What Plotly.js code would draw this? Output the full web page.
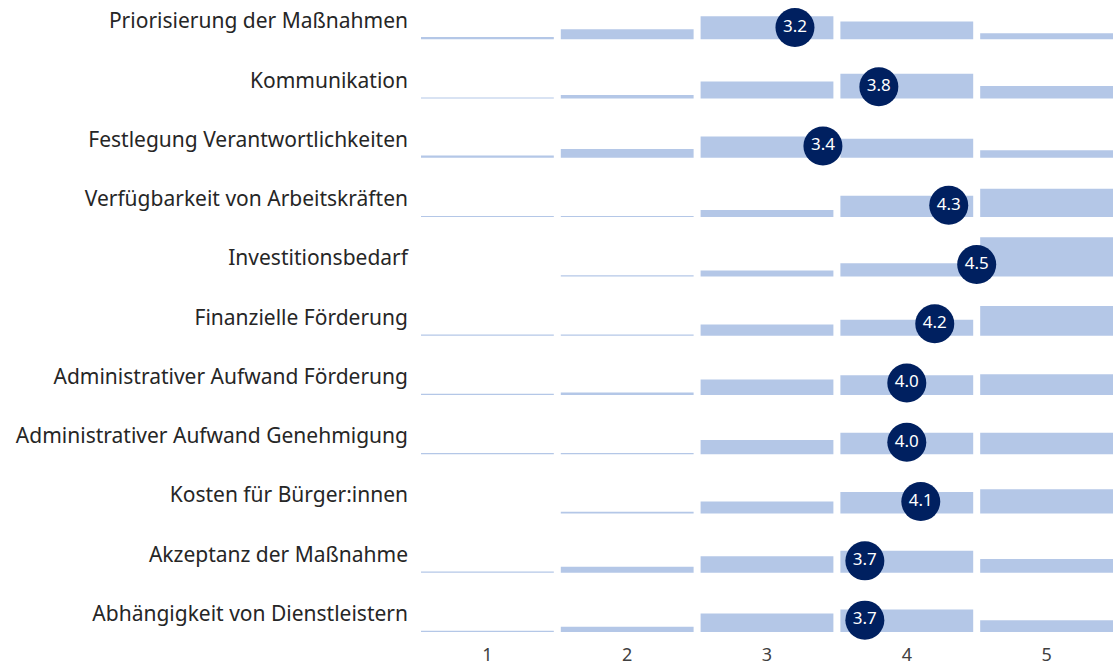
<!DOCTYPE html>
<html>
<head>
<meta charset="utf-8">
<script src="https://cdn.plot.ly/plotly-3.0.1.min.js"></script>
<style>
html,body{margin:0;padding:0;background:#fff;}
#chart{width:1115px;height:666px;}
</style>
</head>
<body>
<div id="chart"></div>
<script>
// Categories (top to bottom)
const categories = [
  "Priorisierung der Maßnahmen",
  "Kommunikation",
  "Festlegung Verantwortlichkeiten",
  "Verfügbarkeit von Arbeitskräften",
  "Investitionsbedarf",
  "Finanzielle Förderung",
  "Administrativer Aufwand Förderung",
  "Administrativer Aufwand Genehmigung",
  "Kosten für Bürger:innen",
  "Akzeptanz der Maßnahme",
  "Abhängigkeit von Dienstleistern"
];
// Scale levels (x tick labels)
const levels = [1, 2, 3, 4, 5];
const levelLabels = ["1", "2", "3", "4", "5"];
// Share of answers (%) per level, one array per category
const share1 = [4, 2, 4, 2, 0, 2, 2, 2, 0, 2, 2];
const share2 = [17, 6, 15, 2, 2, 2, 4, 2, 3, 10, 9];
const share3 = [39, 29, 36, 12, 10, 19, 26, 24, 20, 28, 31];
const share4 = [30, 42, 32, 36, 22, 27, 33, 36, 36, 37, 38];
const share5 = [10, 21, 13, 48, 66, 50, 35, 36, 41, 23, 20];
// Mean values
const means = [3.2, 3.8, 3.4, 4.3, 4.5, 4.2, 4.0, 4.0, 4.1, 3.7, 3.7];

const shares = [share1, share2, share3, share4, share5];
const n = categories.length;
const baseOf = i => (n - 1) - i;

const bx = [], by = [], bbase = [];
for (let i = 0; i < n; i++) {
  for (let k = 0; k < levels.length; k++) {
    if (shares[k][i] <= 0) continue;
    bx.push(levels[k]);
    by.push(shares[k][i] / 100);
    bbase.push(baseOf(i));
  }
}

const barTrace = {
  type: 'bar',
  x: bx, y: by, base: bbase,
  width: 0.95,
  marker: {color: '#b4c7e7', line: {width: 0}},
  hoverinfo: 'skip',
  showlegend: false
};

const meanTrace = {
  type: 'scatter',
  mode: 'markers+text',
  x: means,
  y: means.map((m, i) => baseOf(i) + 0.2),
  text: means.map(m => m.toFixed(1)),
  textposition: 'middle center',
  textfont: {family: 'Noto Sans, Open Sans, sans-serif', size: 17, color: '#ffffff'},
  marker: {size: 39, color: '#002060', line: {width: 0}},
  cliponaxis: false,
  hoverinfo: 'skip',
  showlegend: false
};

const layout = {
  width: 1115, height: 666,
  margin: {l: 421, r: 2, t: 0, b: 26, pad: 0},
  paper_bgcolor: '#ffffff',
  plot_bgcolor: '#ffffff',
  barmode: 'overlay',
  showlegend: false,
  xaxis: {
    range: [0.525, 5.475],
    tickvals: levels, ticktext: levelLabels,
    ticks: '', showgrid: false, zeroline: false, showline: false,
    tickfont: {family: 'Noto Sans, sans-serif', size: 18, color: '#404040'},
    ticklabelstandoff: 2,
    automargin: false, fixedrange: true
  },
  yaxis: {
    range: [-0.135, 10.663],
    tickvals: categories.map((c, i) => baseOf(i) + 0.31),
    ticktext: categories,
    ticks: '', showgrid: false, zeroline: false, showline: false,
    tickfont: {family: 'Noto Sans, sans-serif', size: 21, color: '#262626'},
    ticklabelstandoff: 12,
    automargin: false, fixedrange: true
  }
};

Plotly.newPlot('chart', [barTrace, meanTrace], layout, {displayModeBar: false, staticPlot: true});
</script>
</body>
</html>
